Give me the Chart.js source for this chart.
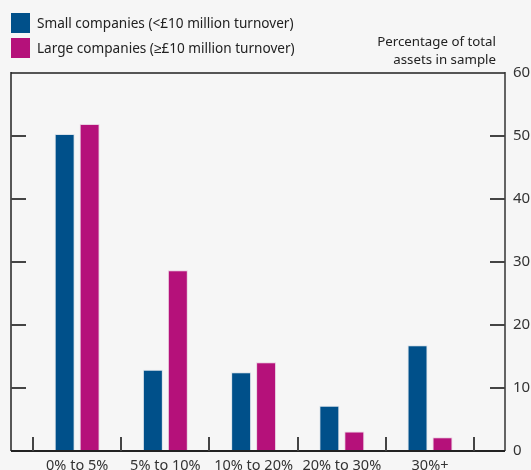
<!DOCTYPE html>
<html>
<head>
<meta charset="utf-8">
<script src="https://cdn.jsdelivr.net/npm/chart.js@4/dist/chart.umd.min.js"></script>
<style>
	html, body { margin: 0; padding: 0; background: #f6f6f6; }
	#wrap { position: relative; width: 531px; height: 470px; overflow: hidden; font-family: "Noto Sans", sans-serif; color: #222; }
	#chart { position: absolute; left: 0; top: 0; }
	.legend { position: absolute; left: 11px; font-size: 13.6px; line-height: 20px; }
	.legend span { display: inline-block; width: 19px; height: 20px; vertical-align: top; margin-right: 7px; }
	#title { position: absolute; right: 35px; top: 32px; text-align: right; font-size: 13.3px; line-height: 18px; }
</style>
</head>
<body>
<div id="wrap">
	<canvas id="chart" width="531" height="470"></canvas>
	<div class="legend" style="top:13px"><span style="background:#00508a"></span>Small companies (&lt;£10 million turnover)</div>
	<div class="legend" style="top:38px"><span style="background:#b5117a"></span>Large companies (≥£10 million turnover)</div>
	<div id="title">Percentage of total<br>assets in sample</div>
</div>
<script>
// data
const categories = ['0% to 5%', '5% to 10%', '10% to 20%', '20% to 30%', '30%+'];
const smallCompanies = [50.3, 12.9, 12.5, 7.2, 16.8];
const largeCompanies = [51.9, 28.7, 14.1, 3.1, 2.2];
const yTicks = [0, 10, 20, 30, 40, 50, 60];

// frame and inward tick marks
const framePlugin = {
	id: 'frame',
	afterDraw(chart) {
		const c = chart.ctx, a = chart.chartArea;
		const x = chart.scales.x, y = chart.scales.y;
		c.save();
		c.lineCap = 'butt';
		// top
		c.strokeStyle = '#555'; c.lineWidth = 2;
		c.beginPath(); c.moveTo(a.left, a.top); c.lineTo(a.right, a.top); c.stroke();
		// left
		c.strokeStyle = '#222'; c.lineWidth = 1.5;
		c.beginPath(); c.moveTo(a.left, a.top - 1); c.lineTo(a.left, a.bottom); c.stroke();
		// right
		c.strokeStyle = '#333';
		c.beginPath(); c.moveTo(a.right, a.top - 1); c.lineTo(a.right, a.bottom); c.stroke();
		// bottom
		c.strokeStyle = '#222'; c.lineWidth = 2;
		c.beginPath(); c.moveTo(a.left, a.bottom); c.lineTo(a.right, a.bottom); c.stroke();
		// y ticks, both sides
		c.strokeStyle = '#444'; c.lineWidth = 2;
		yTicks.slice(1, -1).forEach(v => {
			const py = Math.round(y.getPixelForValue(v));
			c.beginPath(); c.moveTo(a.left, py); c.lineTo(a.left + 15, py); c.stroke();
			c.beginPath(); c.moveTo(a.right - 15, py); c.lineTo(a.right, py); c.stroke();
		});
		// x ticks at category boundaries
		for (let i = 0; i <= categories.length; i++) {
			const px = Math.round(x.getPixelForValue(i - 0.5));
			c.beginPath(); c.moveTo(px, a.bottom); c.lineTo(px, a.bottom - 14); c.stroke();
		}
		c.restore();
	}
};

let ctx = document.getElementById('chart').getContext('2d');
let chart = new Chart(ctx, {
	type: 'bar',
	data: {
		datasets: [{
			label: 'Small companies (<£10 million turnover)',
			data: smallCompanies.map((v, i) => ({ x: i, y: v })),
			backgroundColor: '#00508a',
			borderColor: 'rgba(210,220,230,0.8)',
			borderWidth: 1
		}, {
			label: 'Large companies (≥£10 million turnover)',
			data: largeCompanies.map((v, i) => ({ x: i, y: v })),
			backgroundColor: '#b5117a',
			borderColor: 'rgba(230,200,220,0.8)',
			borderWidth: 1
		}]
	},
	options: {
		responsive: false,
		animation: false,
		datasets: { bar: { categoryPercentage: 0.566, barPercentage: 0.8 } },
		layout: { padding: { left: 11, top: 73, right: 0, bottom: 0 } },
		plugins: { legend: { display: false }, tooltip: { enabled: false } },
		scales: {
			x: {
				type: 'linear',
				offset: false,
				min: -0.75,
				max: 4.85,
				grid: { display: false, drawTicks: false, offset: false },
				border: { display: false },
				afterBuildTicks(s) { s.ticks = categories.map((c, i) => ({ value: i })); },
				afterFit(s) { s.height = 19; },
				ticks: {
					autoSkip: false,
					maxRotation: 0,
					padding: 6,
					color: '#333',
					font: { family: 'Noto Sans', size: 14.5 },
					callback: v => categories[v]
				}
			},
			y: {
				position: 'right',
				min: 0,
				max: 60,
				grid: { display: false, drawTicks: false },
				border: { display: false },
				afterBuildTicks(s) { s.ticks = yTicks.map(v => ({ value: v })); },
				afterFit(s) { s.width = 26; },
				ticks: {
					padding: 8,
					color: '#333',
					font: { family: 'Noto Sans', size: 15 }
				}
			}
		}
	},
	plugins: [framePlugin]
});
</script>
</body>
</html>
